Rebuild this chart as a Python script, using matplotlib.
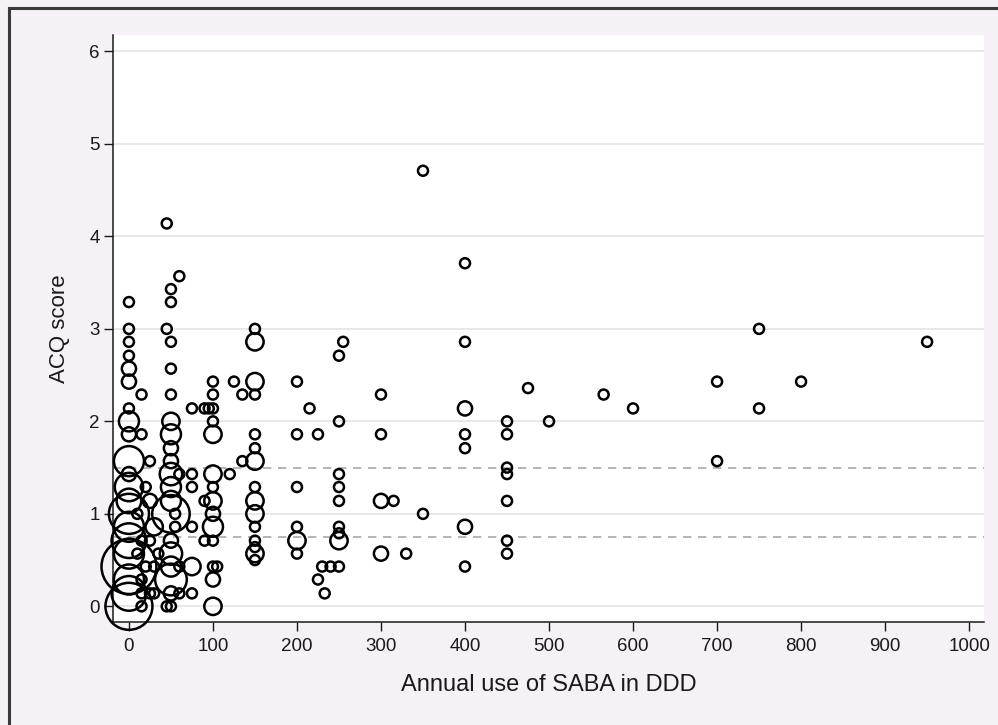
import matplotlib
matplotlib.use("Agg")
from matplotlib import pyplot as plt
from matplotlib.lines import Line2D

plt.rcParams['font.family'] = ['Liberation Sans', 'DejaVu Sans']

# annual SABA use (DDD), ACQ score and number of patients at that point
saba = [0, 0, 0, 0, 0, 0, 0, 0, 0, 0, 0, 0, 0, 0, 0, 0, 0, 0, 0, 0, 0,
        15, 15, 25, 20, 25, 10, 30, 15, 25, 10, 35, 20, 30, 15, 15, 25, 30, 15,
        45, 60, 50, 50, 45, 50, 50, 50, 50, 50, 50, 50, 50, 50, 50, 50, 55, 50, 50,
        50, 50, 50, 45, 50, 60, 60, 60, 55,
        75, 75, 75, 75, 75, 75, 90, 95, 90, 90,
        100, 100, 100, 100, 100, 100, 100, 100, 100, 100, 100, 100, 100, 100, 105,
        120, 125, 135, 135,
        150, 150, 150, 150, 150, 150, 150, 150, 150, 150, 150, 150, 150, 150, 150,
        200, 200, 200, 200, 200, 200, 215, 225, 225, 233, 230, 240, 250,
        255, 250, 250, 250, 250, 250, 250, 250, 250,
        300, 300, 300, 300, 315, 330, 350, 350,
        400, 400, 400, 400, 400, 400, 400,
        450, 450, 450, 450, 450, 450, 450,
        475, 500, 565, 600, 700, 700, 750, 750, 800, 950]
acq = [3.29, 3.0, 2.86, 2.71, 2.57, 2.43, 2.14, 2.0, 1.86, 1.57, 1.43, 1.29, 1.14, 1.0, 0.86, 0.71, 0.57, 0.43, 0.29, 0.14, 0.0,
       2.29, 1.86, 1.57, 1.29, 1.14, 1.0, 0.86, 0.71, 0.71, 0.57, 0.57, 0.43, 0.43, 0.29, 0.14, 0.14, 0.14, 0.0,
       4.14, 3.57, 3.43, 3.29, 3.0, 2.86, 2.57, 2.29, 2.0, 1.86, 1.71, 1.57, 1.43, 1.29, 1.14, 1.0, 0.86, 0.71, 0.57,
       0.43, 0.29, 0.14, 0.0, 0.0, 1.43, 0.43, 0.14, 1.0,
       2.14, 1.43, 1.29, 0.86, 0.43, 0.14, 2.14, 2.14, 1.14, 0.71,
       2.43, 2.29, 2.14, 2.0, 1.86, 1.43, 1.29, 1.14, 1.0, 0.86, 0.71, 0.43, 0.29, 0.0, 0.43,
       1.43, 2.43, 2.29, 1.57,
       3.0, 2.86, 2.43, 2.29, 1.86, 1.71, 1.57, 1.29, 1.14, 1.0, 0.86, 0.71, 0.64, 0.57, 0.5,
       2.43, 1.86, 1.29, 0.86, 0.71, 0.57, 2.14, 1.86, 0.29, 0.14, 0.43, 0.43, 0.43,
       2.86, 2.71, 2.0, 1.43, 1.29, 1.14, 0.86, 0.79, 0.71,
       2.29, 1.86, 1.14, 0.57, 1.14, 0.57, 1.0, 4.71,
       3.71, 2.86, 2.14, 1.86, 1.71, 0.86, 0.43,
       2.0, 1.86, 1.5, 1.43, 1.14, 0.71, 0.57,
       2.36, 2.0, 2.29, 2.14, 2.43, 1.57, 3.0, 2.14, 2.43, 2.86]
weight = [1, 1, 1, 1, 2, 2, 1, 4, 2, 9, 2, 8, 6, 16, 9, 12, 9, 30, 9, 12, 22,
          1, 1, 1, 1, 2, 1, 3, 1, 1, 1, 1, 1, 1, 1, 1, 1, 1, 1,
          1, 1, 1, 1, 1, 1, 1, 1, 3, 4, 2, 2, 5, 4, 4, 14, 1, 2, 5,
          4, 10, 2, 1, 1, 1, 1, 1, 1,
          1, 1, 1, 1, 3, 1, 1, 1, 1, 1,
          1, 1, 1, 1, 3, 3, 1, 3, 2, 4, 1, 1, 2, 3, 1,
          1, 1, 1, 1,
          1, 3, 3, 1, 1, 1, 3, 1, 3, 3, 1, 1, 1, 3, 1,
          1, 1, 1, 1, 3, 1, 1, 1, 1, 1, 1, 1, 1,
          1, 1, 1, 1, 1, 1, 1, 1, 3,
          1, 1, 2, 2, 1, 1, 1, 1,
          1, 1, 2, 1, 1, 2, 1,
          1, 1, 1, 1, 1, 1, 1,
          1, 1, 1, 1, 1, 1, 1, 1, 1, 1]

x_ticks = [0, 100, 200, 300, 400, 500, 600, 700, 800, 900, 1000]
y_ticks = [0, 1, 2, 3, 4, 5, 6]
cutoffs = [0.75, 1.5]

bg = '#f5f1f7'
fig = plt.figure(figsize=(9.98, 7.25), dpi=100, facecolor=bg)
ax = fig.add_axes([0.1132, 0.142, 0.873, 0.810])
ax.set_facecolor('white')

for yv in y_ticks:
    ax.axhline(yv, color='#e4e4e4', linewidth=1.2, zorder=0)
for c in cutoffs:
    ax.axhline(c, color='#a8a8a8', linewidth=1.2, linestyle=(0, (5, 4)), zorder=1)

ax.scatter(saba, acq, s=[52 * w for w in weight], facecolors='none',
           edgecolors='black', linewidths=1.8, zorder=3, clip_on=False)

ax.set_xlim(-19, 1018)
ax.set_ylim(-0.17, 6.18)
ax.set_xticks(x_ticks)
ax.set_yticks(y_ticks)
ax.tick_params(axis='both', direction='out', length=6.5, width=1.0,
               color='#1a1a1a', labelsize=13.5, labelcolor='#1a1a1a')
ax.tick_params(axis='y', pad=3)
ax.tick_params(axis='x', pad=5)

for side in ('top', 'right'):
    ax.spines[side].set_visible(False)
for side in ('left', 'bottom'):
    ax.spines[side].set_color('#1a1a1a')
    ax.spines[side].set_linewidth(1.1)

ax.set_xlabel('Annual use of SABA in DDD', fontsize=17, color='#1a1a1a', labelpad=14)
ax.set_ylabel('ACQ score', fontsize=16, color='#1a1a1a', labelpad=14)

# dark frame round the figure (top and left edges visible)
fig.add_artist(Line2D([9 / 998, 1.0], [1 - 8 / 725, 1 - 8 / 725],
                      transform=fig.transFigure, color='#3a3a3a', linewidth=2.2))
fig.add_artist(Line2D([9 / 998, 9 / 998], [0.0, 1 - 8 / 725],
                      transform=fig.transFigure, color='#3a3a3a', linewidth=2.2))

fig.savefig('out.png', dpi=100, facecolor=bg)
